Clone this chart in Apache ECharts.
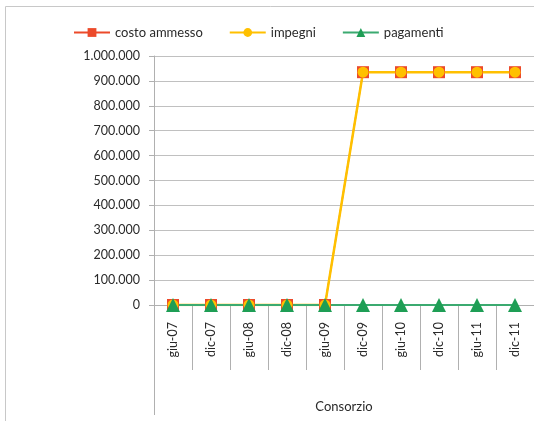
<!DOCTYPE html>
<html><head><meta charset="utf-8">
<script src="https://cdn.jsdelivr.net/npm/echarts@6/dist/echarts.min.js"></script>
<style>html,body{margin:0;padding:0;background:#fff}#c{width:534px;height:421px}</style>
</head><body><div id="c"></div>
<script>
const categories = ['giu-07','dic-07','giu-08','dic-08','giu-09','dic-09','giu-10','dic-10','giu-11','dic-11'];
const costoAmmesso = [0,0,0,0,0,935000,935000,935000,935000,935000];
const impegni = [0,0,0,0,0,935000,935000,935000,935000,935000];
const pagamenti = [0,0,0,0,0,0,0,0,0,0];
const yTicks = [0,100000,200000,300000,400000,500000,600000,700000,800000,900000,1000000];

const W = 534, H = 421;
const gLeft = 154, gTop = 56, gBottom = 116, gRight = -3;
const FONT = 'Lato';
function fmt(v){ return String(v).replace(/\B(?=(\d{3})+(?!\d))/g, '.'); }

const chart = echarts.init(document.getElementById('c'));
const axisY = H - gBottom;
chart.setOption({
  animation:false,
  textStyle:{fontFamily:FONT},
  legend:{
    top:21, left:68, itemWidth:36, itemHeight:11, itemGap:26,
    textStyle:{fontFamily:FONT, fontSize:13, color:'#2a2a2a'},
    data:['costo ammesso','impegni','pagamenti']
  },
  grid:{left:gLeft, top:gTop, bottom:gBottom, right:gRight, containLabel:false},
  xAxis:{
    type:'category', data:categories, boundaryGap:true,
    axisLine:{show:true, lineStyle:{color:'#b0b0b0', width:1}},
    axisTick:{show:true, interval:0, length:65, lineStyle:{color:'#b0b0b0'}},
    axisLabel:{interval:0, rotate:90, margin:17, fontFamily:FONT, fontSize:12.5, color:'#2a2a2a'},
    name:'Consorzio', nameLocation:'middle', nameGap:95,
    nameTextStyle:{fontFamily:FONT, fontSize:13, color:'#2a2a2a'}
  },
  yAxis:{
    type:'value', min:yTicks[0], max:yTicks[yTicks.length-1], interval:yTicks[1]-yTicks[0],
    axisLine:{show:true, lineStyle:{color:'#b0b0b0'}},
    axisTick:{show:true, length:5, lineStyle:{color:'#b0b0b0'}},
    splitLine:{show:true, lineStyle:{color:'#c0c0c0', width:1}},
    axisLabel:{formatter:fmt, margin:14, fontFamily:FONT, fontSize:12.5, color:'#2a2a2a'}
  },
  series:[
    {name:'costo ammesso', type:'line', data:costoAmmesso, symbol:'rect', symbolSize:12,
     itemStyle:{color:'#EC4A2A'}, lineStyle:{color:'#EC4A2A', width:1.5}},
    {name:'impegni', type:'line', data:impegni, symbol:'circle', symbolSize:11,
     itemStyle:{color:'#FFC000'}, lineStyle:{color:'#FFC000', width:2.5}},
    {name:'pagamenti', type:'line', data:pagamenti, symbol:'triangle', symbolSize:14,
     itemStyle:{color:'#1E9E55'}, lineStyle:{color:'#3BAA70', width:2}}
  ],
  graphic:[
    {type:'rect', shape:{x:5.5, y:6.5, width:700, height:700}, style:{fill:null, stroke:'#c8c8c8', lineWidth:1}, silent:true},
    {type:'line', shape:{x1:gLeft+0.5, y1:axisY, x2:gLeft+0.5, y2:415}, style:{stroke:'#b0b0b0', lineWidth:1}, silent:true}
  ]
});
</script></body></html>
